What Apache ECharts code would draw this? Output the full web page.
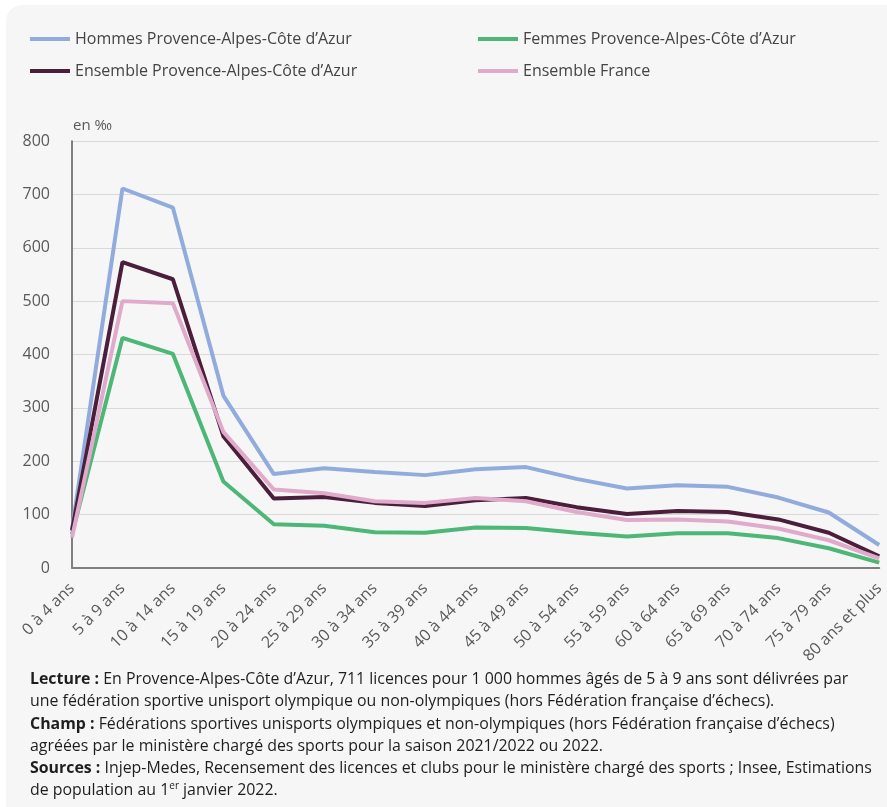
<!DOCTYPE html>
<html>
<head>
<meta charset="utf-8">
<script src="https://cdn.jsdelivr.net/npm/echarts@6/dist/echarts.min.js"></script>
<style>
html,body{margin:0;padding:0;background:#ffffff;width:887px;height:807px;overflow:hidden;}
#panel{position:absolute;left:6px;top:5px;width:900px;height:830px;background:#f6f6f6;border-radius:16px;}
#chart{position:absolute;left:0;top:0;width:887px;height:807px;}
#foot{position:absolute;left:30px;top:667px;width:857px;font-family:"Open Sans",sans-serif;font-size:15.9px;line-height:22.3px;color:#1e1e1e;white-space:nowrap;}
#foot b{font-weight:700;}
</style>
</head>
<body>
<div id="panel"></div>
<div id="chart"></div>
<div id="foot">
<div><b>Lecture :</b> En Provence-Alpes-Côte d’Azur, 711 licences pour 1 000 hommes âgés de 5 à 9 ans sont délivrées par</div>
<div>une fédération sportive unisport olympique ou non-olympiques (hors Fédération française d’échecs).</div>
<div><b>Champ :</b> Fédérations sportives unisports olympiques et non-olympiques (hors Fédération française d’échecs)</div>
<div>agréées par le ministère chargé des sports pour la saison 2021/2022 ou 2022.</div>
<div><b>Sources :</b> Injep-Medes, Recensement des licences et clubs pour le ministère chargé des sports ; Insee, Estimations</div>
<div>de population au 1<sup style="font-size:10px;line-height:0;">er</sup> janvier 2022.</div>
</div>
<script>
var categories = ["0 à 4 ans","5 à 9 ans","10 à 14 ans","15 à 19 ans","20 à 24 ans","25 à 29 ans","30 à 34 ans","35 à 39 ans","40 à 44 ans","45 à 49 ans","50 à 54 ans","55 à 59 ans","60 à 64 ans","65 à 69 ans","70 à 74 ans","75 à 79 ans","80 ans et plus"];
var hommesPACA = [72,711,675,323,176,187,180,174,185,189,167,149,155,152,132,104,43];
var femmesPACA = [63,431,401,162,82,79,67,66,76,75,66,59,65,65,56,37,10];
var ensemblePACA = [70,573,541,247,130,133,122,116,127,131,114,101,107,105,91,66,22];
var ensembleFrance = [57,500,496,255,147,140,125,122,131,125,105,90,91,87,74,52,18];
var yTicks = [0,100,200,300,400,500,600,700,800];

var names = ["Hommes Provence-Alpes-Côte d’Azur","Femmes Provence-Alpes-Côte d’Azur","Ensemble Provence-Alpes-Côte d’Azur","Ensemble France"];
var colors = ["#91acdc","#4cb777","#4b1f3b","#e0aacb"];
var datas = [hommesPACA, femmesPACA, ensemblePACA, ensembleFrance];

var chart = echarts.init(document.getElementById('chart'));
var legendText = {fontFamily:"Open Sans",fontSize:16,color:"#444444"};
var option = {
  backgroundColor: 'transparent',
  textStyle:{fontFamily:"Open Sans"},
  legend: [
    {orient:'vertical',left:30,top:31,padding:0,itemWidth:40,itemHeight:4,itemGap:16,icon:'rect',
     data:[names[0],names[2]],textStyle:legendText,selectedMode:false},
    {orient:'vertical',left:478,top:31,padding:0,itemWidth:40,itemHeight:4,itemGap:16,icon:'rect',
     data:[names[1],names[3]],textStyle:legendText,selectedMode:false}
  ],
  graphic:[{type:'text',left:73,top:118,style:{text:'en ‰',fontFamily:"Open Sans",fontSize:15,fill:'#595959'}}],
  grid:{left:72,right:1,top:141,bottom:239,containLabel:false},
  xAxis:{
    type:'category',data:categories,boundaryGap:false,
    axisLine:{lineStyle:{color:'#7f7f7f',width:2}},
    axisTick:{show:false},
    axisLabel:{rotate:45,fontSize:16,color:'#595959',margin:18,interval:0,fontFamily:"Open Sans"}
  },
  yAxis:{
    type:'value',min:yTicks[0],max:yTicks[yTicks.length-1],interval:100,
    axisLine:{show:true,lineStyle:{color:'#595959',width:1.5}},
    axisTick:{show:false},
    axisLabel:{fontSize:16,color:'#595959',margin:22,fontFamily:"Open Sans"},
    splitLine:{lineStyle:{color:'#d9d9d9',width:1.2}}
  },
  series: datas.map(function(d,i){
    return {name:names[i],type:'line',data:d,symbol:'none',smooth:false,
      lineStyle:{color:colors[i],width:4},itemStyle:{color:colors[i]},
      emphasis:{disabled:true},animation:false};
  })
};
chart.setOption(option);
</script>
</body>
</html>
